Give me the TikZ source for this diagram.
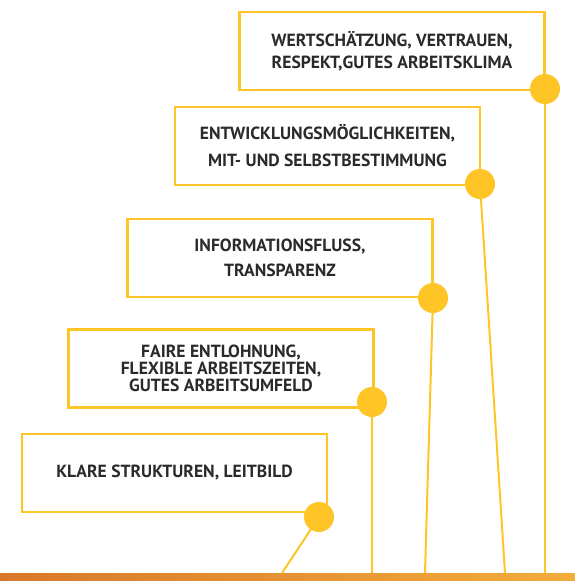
\documentclass[tikz,border=0pt]{standalone}
\usepackage{fontspec}
\setmainfont{PT Sans}
\usetikzlibrary{shapes}
\definecolor{gelb}{HTML}{FFC425}
\definecolor{schrift}{HTML}{2B2A29}
\definecolor{orangeL}{HTML}{D8782A}
\definecolor{orangeR}{HTML}{F3AD3C}
\tikzset{
  kasten/.style={draw=gelb,line width=2.5pt,rectangle,minimum width=305pt,minimum height=78pt,align=center,text=schrift},
  punkt/.style={circle,fill=gelb,minimum size=30pt,inner sep=0pt},
  linie/.style={gelb,line width=2pt}
}
\newcommand{\zeilen}[1]{\bfseries\fontsize{17.6}{#1}\selectfont}

\begin{document}
\begin{tikzpicture}[x=1pt,y=-1pt]
        \useasboundingbox(0,0)rectangle(575,581);
        \node(balken)at(287.5,577)[minimum width=575pt,minimum height=8pt,inner sep=0pt,left color=orangeL,right color=orangeR]{};
        \node(k1)at(392,51)[kasten,font=\zeilen{22pt}]{WERTSCHÄTZUNG, VERTRAUEN,\\RESPEKT,GUTES ARBEITSKLIMA};
        \node(k2)at(327.5,146)[kasten,font=\zeilen{27pt}]{ENTWICKLUNGSMÖGLICHKEITEN,\\MIT- UND SELBSTBESTIMMUNG};
        \node(k3)at(280,258)[kasten,font=\zeilen{25pt}]{INFORMATIONSFLUSS,\\TRANSPARENZ};
        \node(k4)at(221,368.5)[kasten,font=\zeilen{17pt}]{FAIRE ENTLOHNUNG,\\FLEXIBLE ARBEITSZEITEN,\\GUTES ARBEITSUMFELD};
        \node(k5)at(174.5,473)[kasten,font=\zeilen{17pt}]{KLARE STRUKTUREN, LEITBILD};
        \coordinate(f1)at(545,573);
        \coordinate(f2)at(505,573);
        \coordinate(f3)at(425,573);
        \coordinate(f4)at(372,573);
        \coordinate(f5)at(282,573);
        \draw[linie](545,89)--(f1);
        \draw[linie](480,184)--(f2);
        \draw[linie](433,298)--(f3);
        \draw[linie](372,402)--(f4);
        \draw[linie](319,517)--(f5);
        \node(p1)at(545,89)[punkt]{};
        \node(p2)at(480,184)[punkt]{};
        \node(p3)at(433,298)[punkt]{};
        \node(p4)at(372,402)[punkt]{};
        \node(p5)at(319,517)[punkt]{};
    \end{tikzpicture}
\end{document}
